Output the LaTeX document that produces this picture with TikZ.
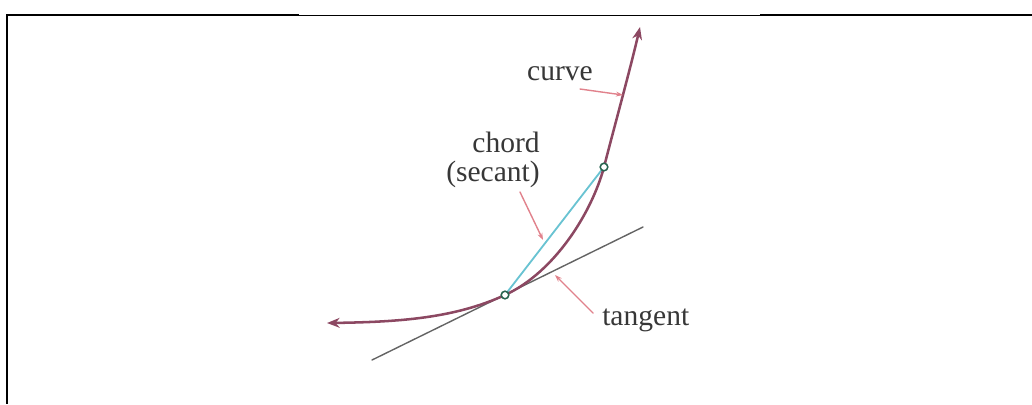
\documentclass[tikz,border=0pt]{standalone}
\usepackage{fontspec}
\setmainfont{Liberation Serif}
\usetikzlibrary{arrows.meta}
\definecolor{curvecol}{RGB}{140,72,98}
\definecolor{chordcol}{RGB}{105,195,210}
\definecolor{tancol}{RGB}{100,100,100}
\definecolor{ptrcol}{RGB}{225,130,140}
\definecolor{dotcol}{RGB}{40,100,80}
\definecolor{txtcol}{RGB}{55,55,55}
\tikzset{
  lbl/.style={inner sep=0pt,text=txtcol},
  ptr/.style={ptrcol,line width=1pt,-{Stealth[length=5pt,width=3.5pt]}},
  dot/.style={circle,draw=dotcol,fill=white,line width=1.1pt,inner sep=0pt,minimum size=0.19cm}
}
\begin{document}
\begin{tikzpicture}[x=0.025cm,y=-0.025cm,line cap=round,line join=round,font=\fontsize{21}{20.5}\selectfont]
  \useasboundingbox (0,0) rectangle (1032,404);
  % frame
  \draw[line width=1.4pt,line cap=butt] (8,15) -- (299,15);
  \draw[line width=0.7pt,line cap=butt] (299,15) -- (760,15);
  \draw[line width=1.4pt,line cap=butt] (760,15) -- (1032,15);
  \draw[line width=1.4pt,line cap=butt] (7,14) -- (7,404);
  % points
  \coordinate (L) at (327,323);
  \coordinate (P) at (505,295);
  \coordinate (Q) at (604,167);
  \coordinate (U) at (640,27);
  \coordinate (tanA) at (372,360);
  \coordinate (tanB) at (643,227);
  \draw[tancol,line width=1pt] (tanA) -- (tanB);
  \draw[chordcol,line width=1.3pt] (P) -- (Q);
  \draw[curvecol,line width=1.8pt,{Stealth[length=9pt,width=7pt]}-{Stealth[length=9pt,width=7pt]}]
    (L) .. controls (400,322) and (455,318) .. (P)
        .. controls (555,272) and (592,212) .. (Q)
        .. controls (614,128) and (630,70) .. (U);
  \node[dot] (Pdot) at (P) {};
  \node[dot] (Qdot) at (Q) {};
  % labels
  \node[lbl,anchor=base] (curvelbl) at (560,80) {curve};
  \node[lbl,anchor=east,align=right] (chordlbl) at (540,160) {chord\\(secant)};
  \node[lbl,anchor=base west] (tanlbl) at (602,325) {tangent};
  % pointers
  \coordinate (c1) at (580,89);  \coordinate (c2) at (623,95);
  \coordinate (s1) at (520,192); \coordinate (s2) at (543,240);
  \coordinate (t1) at (593,313); \coordinate (t2) at (555,275);
  \draw[ptr] (c1) -- (c2);
  \draw[ptr] (s1) -- (s2);
  \draw[ptr] (t1) -- (t2);
\end{tikzpicture}
\end{document}
